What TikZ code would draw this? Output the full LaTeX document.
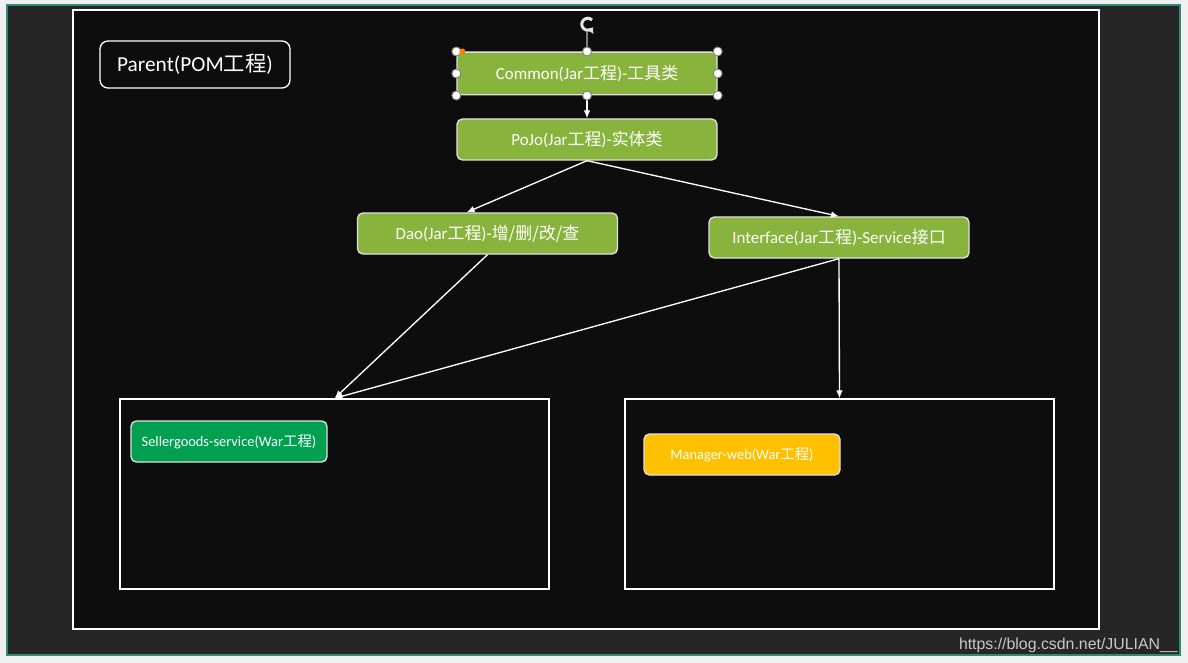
\documentclass[tikz,border=0pt]{standalone}
\usepackage{fontspec}
\setmainfont{Carlito}
\newfontfamily\cjk{Noto Sans CJK SC}
\newfontfamily\wmfont{Liberation Sans}
\usetikzlibrary{arrows.meta, positioning, calc}
\definecolor{jargreen}{HTML}{88B43E}
\definecolor{wargreen}{HTML}{00A050}
\definecolor{waramber}{HTML}{FFC000}
\definecolor{slidebg}{HTML}{0D0D0D}
\definecolor{screenbg}{HTML}{262626}
\definecolor{framecol}{HTML}{2E8B74}

\begin{document}
\begin{tikzpicture}[x=0.75pt, y=-0.75pt,
  jar/.style={draw=white!88!black, line width=1pt, rounded corners=4pt, fill=jargreen,
    text=white, minimum width=195pt, minimum height=30.75pt, inner sep=0pt,
    font=\fontsize{12.7}{14}\selectfont},
  war/.style={draw=white!88!black, line width=1pt, rounded corners=4pt, text=white,
    minimum width=147pt, minimum height=30.75pt, inner sep=0pt,
    font=\fontsize{10.8}{12}\selectfont},
  module/.style={draw=white, line width=1pt, minimum width=321.75pt, minimum height=142.5pt},
  dep/.style={draw=white, line width=1pt, -{Latex[length=6pt,width=5pt]}},
  handle/.style={fill=white, draw=gray, line width=0.7pt}]
  \useasboundingbox (0,0) rectangle (1188,663);
  \fill[white!94!black] (0,0) rectangle (1188,663);
  \draw[framecol, line width=1.2pt, fill=screenbg] (7,5) rectangle (1180,655);
  \draw[white, line width=1.2pt, fill=slidebg] (73,10) rectangle (1099,629);

  \node[draw=white, line width=1pt, rounded corners=6pt, text=white, minimum width=142.5pt,
    minimum height=35.25pt, inner sep=0pt, font=\fontsize{16}{18}\selectfont]
    (parent) at (195,64.5) {Parent(POM{\cjk 工程})};

  \node[jar, minimum height=32pt] (common) at (587,73.5) {Common(Jar{\cjk 工程})-{\cjk 工具类}};
  \node[jar] (pojo) at (587,139.5) {PoJo(Jar{\cjk 工程})-{\cjk 实体类}};
  \node[jar] (dao) at (487.5,233.5) {Dao(Jar{\cjk 工程})-{\cjk 增/删/改/查}};
  \node[jar] (iface) at (839,237.5) {Interface(Jar{\cjk 工程})-Service{\cjk 接口}};

  \node[module] (sellerbox) at (334.5,494) {};
  \node[module] (managerbox) at (839.5,494) {};
  \node[war, fill=wargreen] (seller) at (229,441.5) {Sellergoods-service(War{\cjk 工程})};
  \node[war, fill=waramber] (manager) at (742,454.5) {Manager-web(War{\cjk 工程})};

  \draw[dep] (common.south) -- (pojo.north);
  \draw[dep] (pojo.south) -- ($(dao.north west)!0.42!(dao.north east)$);
  \draw[dep] (pojo.south) -- (iface.north);
  \draw[dep] (dao.south) -- (sellerbox.north);
  \draw[dep] (iface.south) -- (sellerbox.north);
  \draw[dep] (iface.south) -- (managerbox.north);

  % selection handles
  \draw[gray, line width=0.8pt] (common.north) -- ++(0,-19);
  \draw[white!80!gray, line width=2.2pt, -{Triangle[length=3.5pt,width=6pt]}]
    (592,20) arc[start angle=-45, end angle=-325, radius=6];
  \foreach \a in {north west, north, north east, west, east, south west, south, south east}
    \draw[handle] (common.\a) circle (4.5);
  \fill[orange] ($(common.north west)+(6,0)$) circle (3);

  \node[anchor=east, text=white!78!black, inner sep=0pt, font=\wmfont\fontsize{11.9}{14}\selectfont]
    (mark) at (1178,645) {https://blog.csdn.net/JULIAN\_\_};
\end{tikzpicture}
\end{document}
